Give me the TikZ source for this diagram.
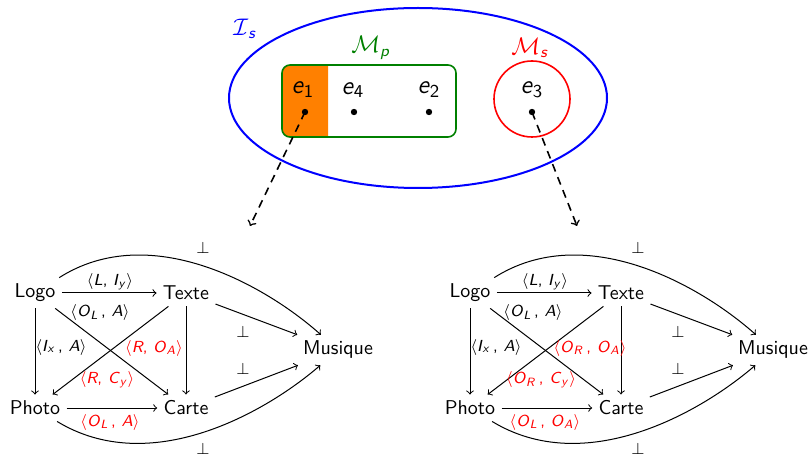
\documentclass[tikz,border=0pt]{standalone}
\renewcommand{\familydefault}{\sfdefault}
\definecolor{dgreen}{rgb}{0,0.5,0}
\newcommand{\vi}[1]{\textit{#1}}
\newcommand{\vs}[2]{\textit{#1}\textsubscript{#2}}
\newcommand{\lang}{$\langle$}
\newcommand{\rang}{$\rangle$}
\begin{document}
\begin{tikzpicture}[x=0.5pt,y=-0.5pt,
  obj/.style={inner sep=3pt, font=\normalsize},
  lab/.style={font=\footnotesize, inner sep=1pt},
  rlab/.style={lab, text=red},
  perp/.style={font=\footnotesize, inner sep=1pt},
  elab/.style={font=\fontsize{13}{15}\selectfont, inner sep=1pt},
  setlab/.style={font=\large, inner sep=1pt},
  dot/.style={circle, fill=black, inner sep=0pt, minimum size=3.2pt},
  conn/.style={->, line width=0.5pt},
  dasharrow/.style={->, line width=0.8pt, dash pattern=on 4pt off 3pt}]
\useasboundingbox (0,0) rectangle (809,454);

% ---------- top part ----------
\begin{scope}
  \clip (280,60) rectangle (328,142);
  \fill[orange, rounded corners=4pt] (282,65) rectangle (456,137);
\end{scope}
\draw[dgreen, line width=0.8pt, rounded corners=4pt] (282,65) rectangle (456,137);
\draw[blue, line width=1pt] (418,98) ellipse [x radius=189, y radius=90];
\draw[red, line width=0.8pt] (532,99) circle [radius=38];

\node[setlab, text=blue] (Is) at (245,29) {$\mathcal{I}$\textsubscript{\vi{s}}};
\node[setlab, text=dgreen] (Mp) at (371,48) {$\mathcal{M}$\textsubscript{\vi{p}}};
\node[setlab, text=red] (Ms) at (530,48) {$\mathcal{M}$\textsubscript{\vi{s}}};

\node[elab] (e1) at (303,90) {\vs{e}{1}};
\node[elab] (e4) at (353,90) {\vs{e}{4}};
\node[elab] (e2) at (429,90) {\vs{e}{2}};
\node[elab] (e3) at (532,90) {\vs{e}{3}};

\node[dot] (d1) at (305,112) {};
\node[dot] (d4) at (354,112) {};
\node[dot] (d2) at (429,112) {};
\node[dot] (d3) at (532,112) {};

\coordinate (t1) at (250,226);
\coordinate (t3) at (577,226);
\draw[dasharrow] (d1.center) -- (t1);
\draw[dasharrow] (d3.center) -- (t3);

% ---------- bottom left diagram ----------
\node[obj] (logoA) at (35,293) {Logo};
\node[obj] (texteA) at (186,293) {Texte};
\node[obj] (photoA) at (35,408) {Photo};
\node[obj] (carteA) at (186,408) {Carte};
\node[obj] (musA) at (338,350) {Musique};

\draw[conn] (logoA) -- (texteA);
\draw[conn] (logoA) -- (photoA);
\draw[conn] (logoA) -- (carteA);
\draw[conn] (texteA) -- (photoA);
\draw[conn] (texteA) -- (carteA);
\draw[conn] (photoA) -- (carteA);
\draw[conn] (texteA) -- (musA);
\draw[conn] (carteA) -- (musA);
\draw[conn] (logoA) .. controls (150,220) and (265,285) .. (musA);
\draw[conn] (photoA) .. controls (150,478) and (265,413) .. (musA);

\node[lab] (a1) at (110,282) {\lang\vi{L}, \vs{I}{\vi{y}}\rang};
\node[lab] (a2) at (61,347) {\lang\vs{I}{\vi{x}}\,, \vi{A}\rang};
\node[lab] (a3) at (100,313) {\lang\vs{O}{\vi{L}}\,, \vi{A}\rang};
\node[rlab] (a4) at (107,380) {\lang\vi{R}, \vs{C}{\vi{y}}\rang};
\node[rlab] (a5) at (154,348) {\lang\vi{R}, \vs{O}{\vi{A}}\rang};
\node[rlab] (a6) at (110,422) {\lang\vs{O}{\vi{L}}\,, \vi{A}\rang};
\node[perp] (pA1) at (243,332) {$\perp$};
\node[perp] (pA2) at (243,369) {$\perp$};
\node[perp] (pA3) at (203,248) {$\perp$};
\node[perp] (pA4) at (203,449) {$\perp$};

% ---------- bottom right diagram ----------
\begin{scope}[shift={(435,0)}]
\node[obj] (logoB) at (35,293) {Logo};
\node[obj] (texteB) at (186,293) {Texte};
\node[obj] (photoB) at (35,408) {Photo};
\node[obj] (carteB) at (186,408) {Carte};
\node[obj] (musB) at (338,350) {Musique};

\draw[conn] (logoB) -- (texteB);
\draw[conn] (logoB) -- (photoB);
\draw[conn] (logoB) -- (carteB);
\draw[conn] (texteB) -- (photoB);
\draw[conn] (texteB) -- (carteB);
\draw[conn] (photoB) -- (carteB);
\draw[conn] (texteB) -- (musB);
\draw[conn] (carteB) -- (musB);
\draw[conn] (logoB) .. controls (150,220) and (265,285) .. (musB);
\draw[conn] (photoB) .. controls (150,478) and (265,413) .. (musB);

\node[lab] (b1) at (110,282) {\lang\vi{L}, \vs{I}{\vi{y}}\rang};
\node[lab] (b2) at (61,347) {\lang\vs{I}{\vi{x}}\,, \vi{A}\rang};
\node[lab] (b3) at (98,313) {\lang\vs{O}{\vi{L}}\,, \vi{A}\rang};
\node[rlab] (b4) at (106,380) {\lang\vs{O}{\vi{R}}\,, \vs{C}{\vi{y}}\rang};
\node[rlab] (b5) at (155,348) {\lang\vs{O}{\vi{R}}\,, \vs{O}{\vi{A}}\rang};
\node[rlab] (b6) at (110,422) {\lang\vs{O}{\vi{L}}\,, \vs{O}{\vi{A}}\rang};
\node[perp] (pB1) at (243,332) {$\perp$};
\node[perp] (pB2) at (243,369) {$\perp$};
\node[perp] (pB3) at (203,248) {$\perp$};
\node[perp] (pB4) at (203,449) {$\perp$};
\end{scope}
\end{tikzpicture}
\end{document}
